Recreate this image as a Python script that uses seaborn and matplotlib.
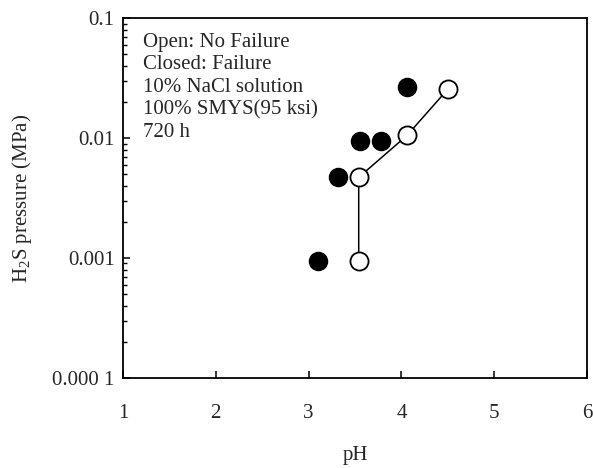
import matplotlib
matplotlib.use("Agg")
import matplotlib.pyplot as plt
import seaborn as sns
import pandas as pd
from matplotlib.ticker import FixedLocator, LogLocator, NullFormatter, NullLocator

# Data
filled_ph = [3.10, 3.32, 3.55, 3.78, 4.06]
filled_p = [0.00095, 0.0047, 0.0095, 0.0095, 0.0265]
open_ph = [3.54, 3.54, 4.06, 4.50]
open_p = [0.00095, 0.0047, 0.0105, 0.0255]

x_ticks = [1, 2, 3, 4, 5, 6]
y_ticks = [0.0001, 0.001, 0.01, 0.1]
y_tick_labels = ["0.000 1", "0.001", "0.01", "0.1"]
note_lines = ["Open: No Failure", "Closed: Failure", "10% NaCl solution",
              "100% SMYS(95 ksi)", "720 h"]

sns.set_style("ticks")
plt.rcParams['font.family'] = ['Liberation Serif', 'DejaVu Serif']
plt.rcParams['mathtext.default'] = 'regular'

fig = plt.figure(figsize=(5.93, 4.68), dpi=100)
ax = fig.add_axes([0.2074, 0.1923, 0.7825, 0.7692])

df_open = pd.DataFrame({"pH": open_ph, "P": open_p})
df_fill = pd.DataFrame({"pH": filled_ph, "P": filled_p})

sns.lineplot(data=df_open, x="pH", y="P", sort=False, estimator=None,
             errorbar=None, color="black", linewidth=1.1, ax=ax, zorder=2)
sns.scatterplot(data=df_fill, x="pH", y="P", s=170, color="black",
                edgecolor="black", linewidth=1.0, ax=ax, zorder=3)
sns.scatterplot(data=df_open, x="pH", y="P", s=170, color="white",
                edgecolor="black", linewidth=1.3, ax=ax, zorder=4)

ax.set_yscale("log")
ax.set_xlim(1, 6)
ax.set_ylim(0.0001, 0.1)
ax.xaxis.set_major_locator(FixedLocator(x_ticks))
ax.set_xticklabels([str(t) for t in x_ticks])
ax.xaxis.set_minor_locator(NullLocator())
ax.yaxis.set_major_locator(FixedLocator(y_ticks))
ax.set_yticklabels(y_tick_labels)
ax.yaxis.set_minor_locator(LogLocator(base=10, subs=range(2, 10)))
ax.yaxis.set_minor_formatter(NullFormatter())

ax.tick_params(axis="both", which="major", direction="in", length=5,
               width=1.1, labelsize=15, pad=6, color="black")
ax.tick_params(axis="y", which="minor", direction="in", length=3,
               width=1.0, color="black")
ax.tick_params(axis="x", pad=19)
for sp in ax.spines.values():
    sp.set_visible(True)
    sp.set_linewidth(1.3)
    sp.set_color("black")

ax.set_xlabel("pH", fontsize=15, labelpad=16)
ax.set_ylabel(r"H$_2$S pressure (MPa)", fontsize=15, labelpad=13)

ax.text(0.043, 0.958, "\n".join(note_lines), transform=ax.transAxes,
        ha="left", va="top", fontsize=15, linespacing=1.24)

fig.savefig("out.png", dpi=100)
